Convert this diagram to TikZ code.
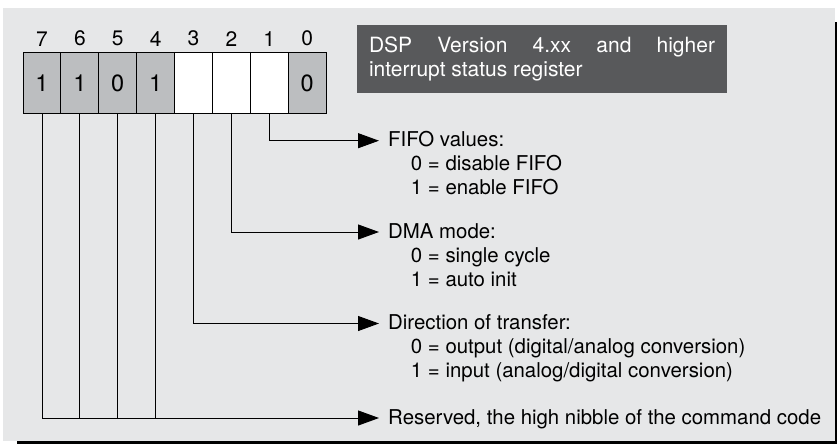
\documentclass[tikz,border=0pt]{standalone}
\usepackage{fontspec}
\setmainfont{TeX Gyre Heros}
\usetikzlibrary{arrows.meta,positioning}
\definecolor{panel}{HTML}{E6E7E8}
\definecolor{bitgray}{HTML}{BCBEC0}
\definecolor{titlegray}{HTML}{58595B}
\tikzset{
  bitcell/.style={draw,line width=1pt,minimum width=37.9pt,minimum height=60pt,inner sep=0pt,
    font=\fontsize{23.5}{25}\selectfont},
  bitnum/.style={inner sep=0pt,font=\fontsize{21}{23}\selectfont},
  titlebox/.style={fill=titlegray,text=white,minimum width=370pt,minimum height=68pt,
    text width=346pt,align=justify,inner sep=0pt,font=\fontsize{21}{24.7}\selectfont},
  desc/.style={anchor=base west,inner sep=0pt,font=\fontsize{20.4}{24}\selectfont},
  head/.style={desc,inner xsep=9pt,text height=12pt,text depth=0pt},
  wire/.style={line width=1pt},
  lead/.style={wire,-{Triangle[length=21pt,width=15pt]}}
}
\begin{document}
\begin{tikzpicture}[x=1pt,y=-1pt]
\useasboundingbox (0,0) rectangle (837,444);
\fill[black] (17,22) rectangle (837,444);
\fill[panel] (3,8) rectangle (835,441);
% register bits
\foreach \b/\v/\c in {7/1/bitgray,6/1/bitgray,5/0/bitgray,4/1/bitgray,3//white,2//white,1//white,0/0/bitgray}{
  \node[bitcell,fill=\c] (c\b) at ({42+(7-\b)*37.875},83) {\v};
  \node[bitnum,above=6pt of c\b] (n\b) {\b};
}
\node[titlebox] (title) at (542,59) {DSP Version 4.xx and higher\linebreak interrupt status register};
% descriptions
\node[head] (fifo) at (379,146.7) {FIFO values:};
\node[desc] (fifo0) at (410.7,170) {0 = disable FIFO};
\node[desc] (fifo1) at (410.7,194) {1 = enable FIFO};
\node[head] (dma) at (379,238) {DMA mode:};
\node[desc] (dma0) at (410.7,262) {0 = single cycle};
\node[desc] (dma1) at (410.7,286) {1 = auto init};
\node[head] (dir) at (379,329.5) {Direction of transfer:};
\node[desc] (dir0) at (410.7,353.5) {0 = output (digital/analog conversion)};
\node[desc] (dir1) at (410.7,377.5) {1 = input (analog/digital conversion)};
\node[head] (resv) at (379,424) {Reserved, the high nibble of the command code};
% leads
\draw[lead] (c1.south) |- (fifo.west);
\draw[lead] (c2.south) |- (dma.west);
\draw[lead] (c3.south) |- (dir.west);
\draw[lead] (c7.south) |- (resv.west);
\foreach \b in {6,5,4} \draw[wire] (c\b.south) -- (c\b.south |- resv.west);
\end{tikzpicture}
\end{document}
